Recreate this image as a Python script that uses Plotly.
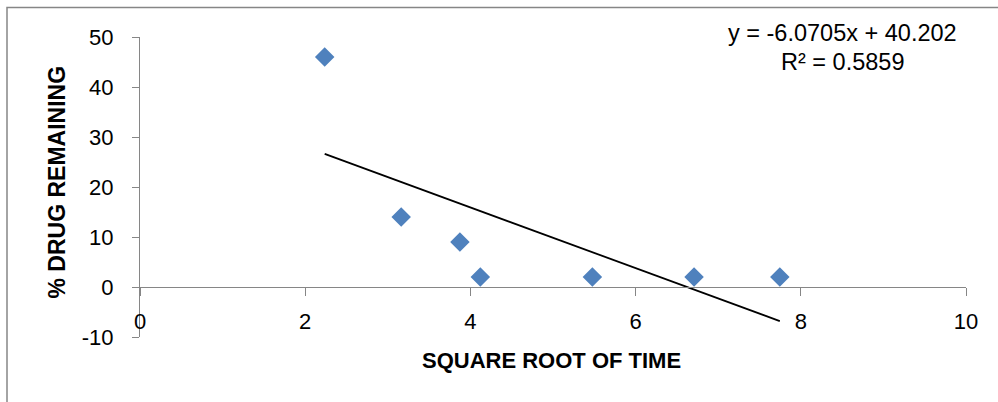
import plotly.graph_objects as go

# Data
sqrt_time = [2.236, 3.162, 3.873, 4.12, 5.477, 6.708, 7.746]
drug_remaining = [46, 14, 9, 2, 2, 2, 2]

# Trendline (linear fit shown on chart)
trend_slope = -6.0705
trend_intercept = 40.202
r_squared = 0.5859

x_ticks = [0, 2, 4, 6, 8, 10]
y_ticks = [-10, 0, 10, 20, 30, 40, 50]

FONT = "Liberation Sans"
AXIS_GRAY = "#868686"

trend_x = [min(sqrt_time), max(sqrt_time)]
trend_y = [trend_slope * v + trend_intercept for v in trend_x]

fig = go.Figure()
fig.add_trace(go.Scatter(
    x=sqrt_time, y=drug_remaining, mode="markers",
    marker=dict(symbol="diamond", size=15, color="#4F81BD", line=dict(width=0)),
    showlegend=False, hoverinfo="x+y",
))
fig.add_trace(go.Scatter(
    x=trend_x, y=trend_y, mode="lines",
    line=dict(color="black", width=1.8),
    showlegend=False, hoverinfo="skip",
))

fig.update_layout(
    width=998, height=402,
    margin=dict(l=140, r=32, t=37, b=65, pad=0),
    paper_bgcolor="white", plot_bgcolor="white",
    font=dict(family=FONT, size=22, color="black"),
    xaxis=dict(
        range=[0, 10], tickvals=x_ticks, ticktext=[str(v) for v in x_ticks],
        showgrid=False, zeroline=False,
        showline=True, linecolor=AXIS_GRAY, linewidth=1.3,
        ticks="outside", ticklen=8, tickcolor=AXIS_GRAY, tickwidth=1.3,
        anchor="free", position=(0 - (-10)) / (50 - (-10)),
        ticklabelstandoff=6,
        tickfont=dict(family=FONT, size=22, color="black"),
    ),
    yaxis=dict(
        range=[-10, 50], tickvals=y_ticks, ticktext=[str(v) for v in y_ticks],
        showgrid=False, zeroline=False,
        showline=True, linecolor=AXIS_GRAY, linewidth=1.3,
        ticks="outside", ticklen=7, tickcolor=AXIS_GRAY, tickwidth=1.3,
        ticklabelstandoff=14,
        tickfont=dict(family=FONT, size=22, color="black"),
    ),
    shapes=[dict(
        type="rect", xref="paper", yref="paper",
        x0=(7 - 140) / 826, x1=1.2, y0=-0.5, y1=1 + (37 - 7.5) / 300,
        line=dict(color=AXIS_GRAY, width=1.5), fillcolor="rgba(0,0,0,0)",
        layer="below",
    )],
    annotations=[
        dict(text="<b>% DRUG REMAINING</b>", xref="paper", yref="paper",
             x=(56.5 - 140) / 826, y=(337 - 182) / 300, textangle=-90,
             showarrow=False, xanchor="center", yanchor="middle",
             font=dict(family=FONT, size=23, color="black")),
        dict(text="<b>SQUARE ROOT OF TIME</b>", xref="paper", yref="paper",
             x=(551 - 140) / 826, y=(337 - 360) / 300,
             showarrow=False, xanchor="center", yanchor="middle",
             font=dict(family=FONT, size=22, color="black")),
        dict(text=f"y = {trend_slope}x + {trend_intercept}", xref="paper", yref="paper",
             x=(842 - 140) / 826, y=(337 - 33) / 300,
             showarrow=False, xanchor="center", yanchor="middle",
             font=dict(family=FONT, size=23.5, color="black")),
        dict(text=f"R² = {r_squared}", xref="paper", yref="paper",
             x=(842 - 140) / 826, y=(337 - 62) / 300,
             showarrow=False, xanchor="center", yanchor="middle",
             font=dict(family=FONT, size=23.5, color="black")),
    ],
)

fig.write_html(
    "out.html",
    config={"displayModeBar": False},
    post_script="document.body.style.margin='0';document.body.style.overflow='hidden';",
)
